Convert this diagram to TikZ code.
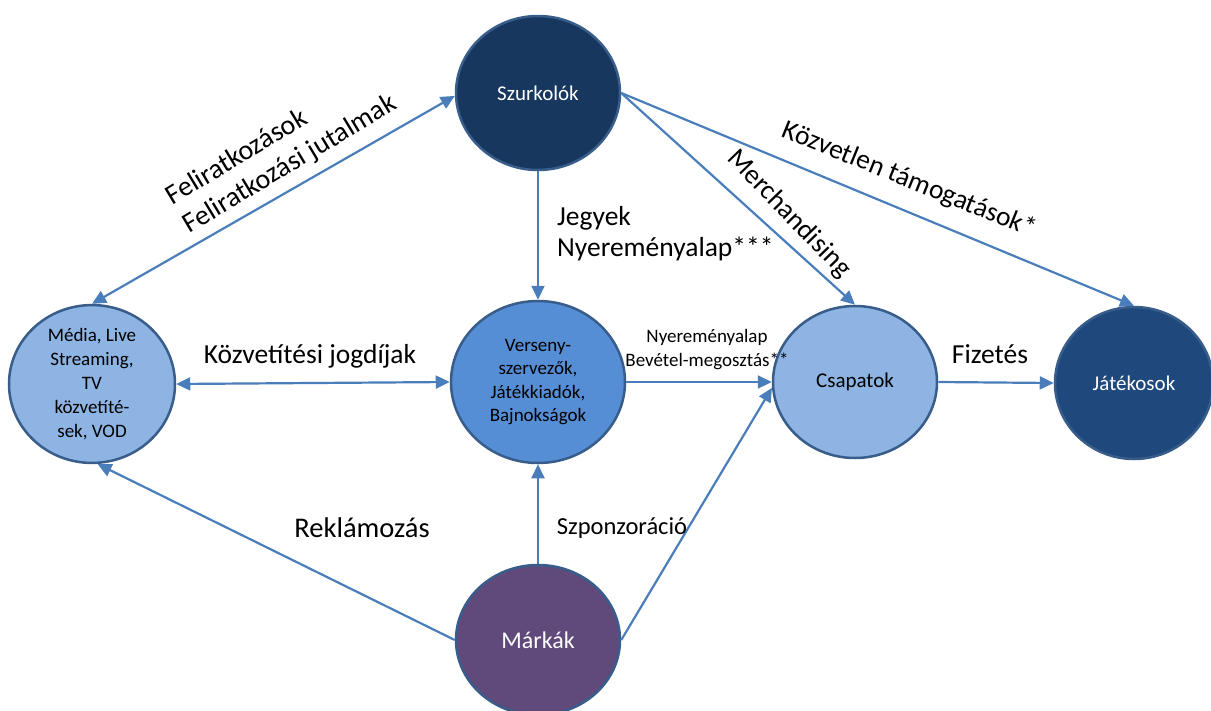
\documentclass[tikz,border=0pt]{standalone}
\usepackage{fontspec}
\setmainfont{Carlito}
\usetikzlibrary{shapes.geometric,arrows.meta}
\definecolor{edgeblue}{HTML}{4A7EBB}
\definecolor{rimblue}{HTML}{385D8A}
\definecolor{navy}{HTML}{17375E}
\definecolor{darkblue}{HTML}{1F497D}
\definecolor{midblue}{HTML}{558ED5}
\definecolor{lightblue}{HTML}{8EB4E3}
\definecolor{plum}{HTML}{604A7B}
\tikzset{
  circ/.style={ellipse, draw=rimblue, line width=2.5pt, inner sep=0pt, align=center},
  conn/.style={draw=edgeblue, line width=2.2pt, -{Triangle[length=14pt,width=13pt]}},
  biconn/.style={draw=edgeblue, line width=2.2pt, {Triangle[length=14pt,width=13pt]}-{Triangle[length=14pt,width=13pt]}},
  biglabel/.style={font=\fontsize{27.5}{31}\selectfont, inner sep=0pt},
  smalllabel/.style={font=\fontsize{19}{24}\selectfont, inner sep=0pt, align=center}
}
\begin{document}
\begin{tikzpicture}[x=1pt,y=-1pt]
\useasboundingbox (0,0) rectangle (1211,710);
% nodes
\node[circ, fill=navy, text=white, minimum width=164pt, minimum height=154pt, font=\fontsize{21}{26}\selectfont] (sz) at (538,93) {Szurkolók};
\node[circ, fill=lightblue, text=black, minimum width=166pt, minimum height=148pt, font=\fontsize{19}{24}\selectfont] (md) at (92,384) {Média, Live\\Streaming,\\TV\\közvetíté-\\sek, VOD};
\node[circ, fill=midblue, text=black, minimum width=174pt, minimum height=162pt, font=\fontsize{19}{23.5}\selectfont] (vs) at (538,382) {Verseny-\\szervezők,\\Játékkiadók,\\Bajnokságok};
\node[circ, fill=lightblue, text=black, minimum width=164pt, minimum height=152pt, font=\fontsize{21}{26}\selectfont] (cs) at (855,382) {Csapatok};
\node[circ, fill=darkblue, text=white, minimum width=158pt, minimum height=152pt, font=\fontsize{21}{26}\selectfont] (jt) at (1134,383) {Játékosok};
\node[circ, fill=plum, text=white, minimum width=164pt, minimum height=150pt, font=\fontsize{24}{28}\selectfont] (mk) at (538,640) {Márkák};
% connectors
\draw[biconn] (md.north) -- (sz.182);
\draw[conn] (sz.south) -- (vs.north);
\draw[conn] (sz.east) -- (cs.north);
\draw[conn] (sz.east) -- (jt.north);
\draw[biconn] (md.east) -- (vs.west);
\draw[conn] (vs.east) -- (cs.west);
\draw[conn] (cs.east) -- (jt.west);
\draw[conn] (mk.west) -- (md.-86);
\draw[conn] (mk.north) -- (vs.south);
\draw[conn] (mk.east) -- (cs.184);
% labels
\node[biglabel, align=left, rotate=31, anchor=south west, font=\fontsize{28}{33}\selectfont] (lfel) at (192,238) {Feliratkozások\\Feliratkozási jutalmak};
\node[biglabel, align=left, anchor=west] (ljegy) at (557,234) {Jegyek\\Nyereményalap***};
\node[biglabel, rotate=-46] (lmerch) at (789,214) {Merchandising};
\node[biglabel, rotate=-22] (ltam) at (909,180) {Közvetlen támogatások*};
\node[biglabel] (lkoz) at (310,356) {Közvetítési jogdíjak};
\node[smalllabel] (lnyer) at (707,350) {Nyereményalap\\Bevétel-megosztás**};
\node[biglabel] (lfiz) at (990,354) {Fizetés};
\node[biglabel, font=\fontsize{28.5}{32}\selectfont] (lrek) at (362,528) {Reklámozás};
\node[biglabel, font=\fontsize{24.5}{28}\selectfont] (lszp) at (622,528) {Szponzoráció};
\end{tikzpicture}
\end{document}
